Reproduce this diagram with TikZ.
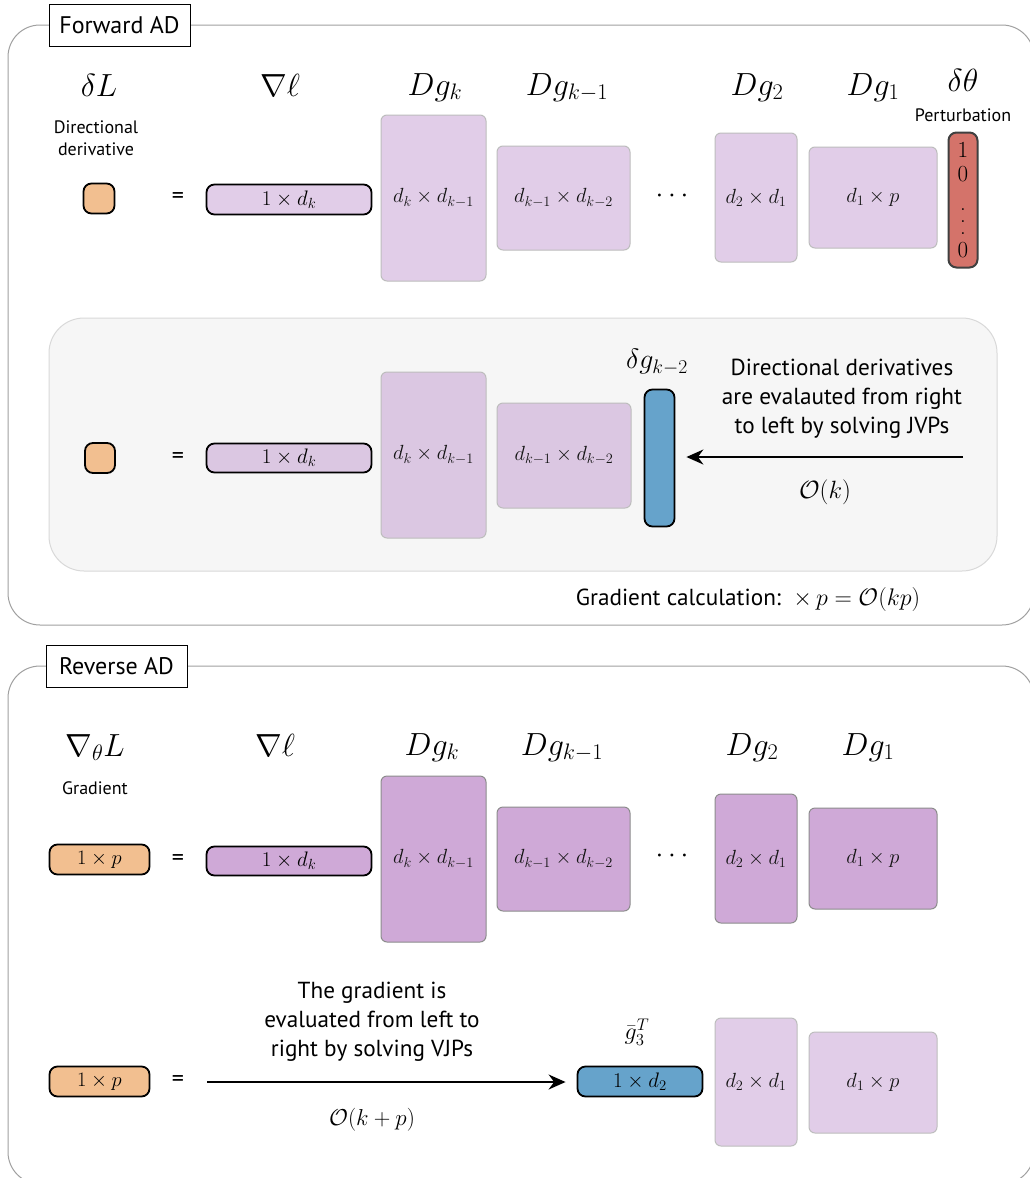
\RequirePackage{fix-cm}
\documentclass[tikz,border=0pt]{standalone}
\usepackage{fontspec}
\setsansfont{PT Sans}
\usetikzlibrary{arrows.meta}
\definecolor{orng}{HTML}{F2BF90}
\definecolor{lpurple}{HTML}{E1CDE8}
\definecolor{gpurple}{HTML}{DBC7E2}
\definecolor{dpurple}{HTML}{CFA9D7}
\definecolor{lborder}{HTML}{BDBDBD}
\definecolor{dborder}{HTML}{8C8C8C}
\definecolor{redvec}{HTML}{D4736A}
\definecolor{bluevec}{HTML}{66A3CB}
\definecolor{greyfill}{HTML}{F6F6F6}
\definecolor{greyline}{HTML}{D9D9D9}
\definecolor{framegray}{HTML}{A0A0A0}
\definecolor{mtxtext}{HTML}{141414}
\newcommand\myvdots{\vbox{\baselineskip=12pt\lineskiplimit=0pt\hbox{.}\hbox{.}\hbox{.}}}
\tikzset{
  lbl/.style={font=\fontsize{32}{36}\selectfont, anchor=base, inner sep=0},
  smalltxt/.style={font=\sffamily\fontsize{18}{22}\selectfont, align=center, inner sep=0},
  midtxt/.style={font=\sffamily\fontsize{23.2}{29}\selectfont, align=center, inner sep=0},
  mtx/.style={rounded corners=6pt, line width=1pt, inner sep=0, font=\fontsize{20.5}{24}\selectfont, text=mtxtext},
  lmat/.style={mtx, draw=lborder, fill=lpurple},
  gmat/.style={mtx, draw=lborder, fill=gpurple},
  dmat/.style={mtx, draw=dborder, fill=dpurple},
  vecbox/.style={rounded corners=8pt, line width=1.8pt, draw=black, inner sep=0, font=\fontsize{21}{24}\selectfont},
  framebox/.style={draw=framegray, line width=1pt, rounded corners=32pt},
  titlebox/.style={draw=black, fill=white, line width=1pt, font=\sffamily\fontsize{24}{28}\selectfont, minimum width=141, minimum height=42, inner sep=0},
  arr/.style={line width=2pt, -{Stealth[length=17pt,width=15pt]}},
  eqsign/.style={font=\sffamily\fontsize{24}{26}\selectfont, inner sep=0},
  dotsn/.style={font=\fontsize{28}{30}\selectfont, inner sep=0},
  vecnum/.style={font=\fontsize{23}{24}\selectfont, inner sep=0},
}
\begin{document}
\begin{tikzpicture}[x=1pt,y=-1pt]
\useasboundingbox (0,0) rectangle (1030,1178);
\clip (0,0) rectangle (1030,1178);
\fill[white] (0,0) rectangle (1030,1178);

% ===== Forward AD =====
\draw[framebox] (8,25) rectangle (1034,625);
\node[titlebox] (ftitle) at (119.5,25) {Forward AD};

\node[lbl] (dL) at (99,96) {$\delta L$};
\node[lbl] (nl1) at (280,96) {$\nabla \ell$};
\node[lbl] (Dgk1) at (435,95) {$Dg_k$};
\node[lbl] (Dgkm1) at (567,95) {$Dg_{k-1}$};
\node[lbl] (Dg21) at (757,95) {$Dg_2$};
\node[lbl] (Dg11) at (873,95) {$Dg_1$};
\node[lbl] (dth) at (963,91) {$\delta\theta$};
\node[smalltxt] (dirder) at (96,138) {Directional\\derivative};
\node[smalltxt] (pert) at (963,115) {Perturbation};

\node[vecbox, fill=orng, minimum width=31, minimum height=30] (o1) at (99,198.5) {};
\node[eqsign] (e1) at (178,198) {=};
\node[vecbox, fill=lpurple, minimum width=165, minimum height=30] (g1) at (289,199.5) {$1\times d_k$};
\node[lmat, minimum width=105, minimum height=166] (a1) at (433.5,198) {$d_k\times d_{k-1}$};
\node[lmat, minimum width=133, minimum height=104] (b1) at (563.5,198) {$d_{k-1}\times d_{k-2}$};
\node[dotsn] (c1) at (672,196) {$\cdots$};
\node[lmat, minimum width=82, minimum height=129] (d21) at (756,197.5) {$d_2\times d_1$};
\node[lmat, minimum width=128, minimum height=101] (d11) at (873,197.5) {$d_1\times p$};
\node[vecbox, draw=black!75, line width=2pt, fill=redvec, minimum width=29, minimum height=135] (rv) at (963,200) {};
\node[vecnum] (rv1) at (963,150) {$1$};
\node[vecnum] (rv2) at (963,174) {$0$};
\node[vecnum] (rv3) at (963,222) {\myvdots};
\node[vecnum] (rv4) at (963,250) {$0$};

% inner grey box
\draw[draw=greyline, fill=greyfill, line width=1pt, rounded corners=35pt] (49,318) rectangle (997,571);
\node[vecbox, fill=orng, minimum width=30, minimum height=30] (o2) at (100,458) {};
\node[eqsign] (e2) at (178,458) {=};
\node[vecbox, fill=gpurple, minimum width=165, minimum height=29] (g2) at (289,458) {$1\times d_k$};
\node[gmat, minimum width=105, minimum height=166] (a2) at (433.5,455) {$d_k\times d_{k-1}$};
\node[gmat, minimum width=134, minimum height=105] (b2) at (564,455.5) {$d_{k-1}\times d_{k-2}$};
\node[vecbox, fill=bluevec, minimum width=30, minimum height=137] (bv) at (659.5,458) {};
\node[font=\fontsize{28}{30}\selectfont, inner sep=0] (dgk2) at (657,362) {$\delta g_{k-2}$};
\coordinate (fstart) at (963,457);
\draw[arr] (fstart) -- (bv.east |- fstart) [shorten >=11pt];
\node[midtxt] (ftxt) at (842,399) {Directional derivatives\\are evalauted from right\\to left by solving JVPs};
\node[font=\fontsize{25}{28}\selectfont, inner sep=0] (ok) at (825,492) {$\mathcal{O}(k)$};
\node[midtxt, anchor=base] (gcalc) at (748,605) {Gradient calculation:\ \ {\fontsize{24}{26}\selectfont$\times\, p = \mathcal{O}(kp)$}};

% ===== Reverse AD =====
\draw[framebox] (8,666) rectangle (1034,1184);
\node[titlebox] (rtitle) at (116.5,666.5) {Reverse AD};

\node[lbl] (gL) at (95,756) {$\nabla_\theta L$};
\node[lbl] (nl3) at (275,756) {$\nabla \ell$};
\node[lbl] (Dgk3) at (432,755) {$Dg_k$};
\node[lbl] (Dgkm3) at (562,755) {$Dg_{k-1}$};
\node[lbl] (Dg23) at (752,755) {$Dg_2$};
\node[lbl] (Dg13) at (868,755) {$Dg_1$};
\node[smalltxt] (grad) at (95,788) {Gradient};

\node[vecbox, fill=orng, minimum width=100, minimum height=30, font=\fontsize{20.5}{24}\selectfont] (o3) at (99.5,859.5) {$1\times p$};
\node[eqsign] (e3) at (178,860) {=};
\node[vecbox, fill=dpurple, minimum width=165, minimum height=29] (g3) at (289,861) {$1\times d_k$};
\node[dmat, minimum width=105, minimum height=166] (a3) at (433.5,859) {$d_k\times d_{k-1}$};
\node[dmat, minimum width=133, minimum height=104] (b3) at (563.5,859) {$d_{k-1}\times d_{k-2}$};
\node[dotsn] (c3) at (672,856) {$\cdots$};
\node[dmat, minimum width=82, minimum height=129] (d23) at (756,858.5) {$d_2\times d_1$};
\node[dmat, minimum width=128, minimum height=101] (d13) at (873,858.5) {$d_1\times p$};

\node[vecbox, fill=orng, minimum width=100, minimum height=30, font=\fontsize{20.5}{24}\selectfont] (o4) at (99.5,1081.5) {$1\times p$};
\node[eqsign] (e4) at (178,1081) {=};
\node[vecbox, fill=bluevec, minimum width=125, minimum height=30] (bv4) at (640,1081.5) {$1\times d_2$};
\node[font=\fontsize{24}{26}\selectfont, inner sep=0] (gbar) at (637,1032) {$\bar g_3^T$};
\coordinate (rstart) at (207,1082);
\draw[arr] (rstart) -- (bv4.west |- rstart) [shorten >=11pt];
\node[midtxt] (rtxt) at (372,1022) {The gradient is\\evaluated from left to\\right by solving VJPs};
\node[font=\fontsize{23}{26}\selectfont, inner sep=0] (okp) at (372,1120) {$\mathcal{O}(k+p)$};
\node[lmat, minimum width=82, minimum height=128] (d24) at (756,1082) {$d_2\times d_1$};
\node[lmat, minimum width=128, minimum height=101] (d14) at (873,1082.5) {$d_1\times p$};
\end{tikzpicture}
\end{document}
